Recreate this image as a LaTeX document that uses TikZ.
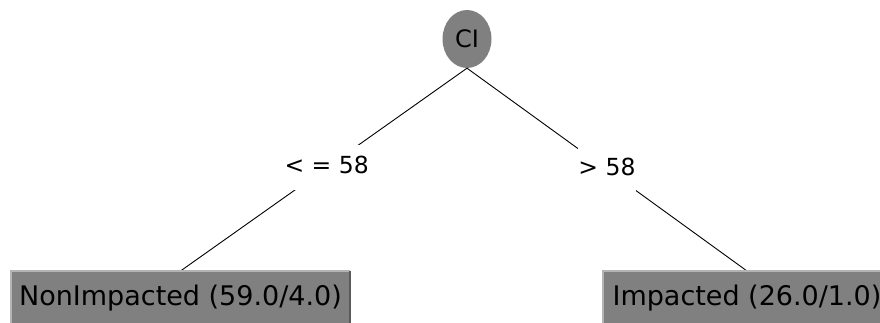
\documentclass[tikz,border=0pt]{standalone}
\usepackage{fontspec}
\setmainfont{DejaVu Sans}
\usetikzlibrary{shapes.geometric}
\definecolor{nodegray}{HTML}{808080}
\definecolor{rimlight}{HTML}{B4B4B4}
\definecolor{rimdark}{HTML}{5A5A5A}
\begin{document}
\begin{tikzpicture}[x=1pt,y=-1pt,
  rootnode/.style={ellipse, fill=nodegray, minimum width=49pt, minimum height=58pt, inner sep=0pt, font=\fontsize{24}{27}\selectfont},
  leafbox/.style={rectangle, fill=nodegray, inner sep=0pt, text height=34pt, text depth=26pt, anchor=north, font=\fontsize{27}{30}\selectfont},
  edgelbl/.style={rectangle, fill=white, inner sep=0pt, text height=28pt, text depth=17pt, font=\fontsize{23.5}{27}\selectfont},
  edgeline/.style={draw=black, line width=0.9pt}
]
\useasboundingbox (0,0) rectangle (880,323);
\clip (0,0) rectangle (880,323);
\fill[white] (0,0) rectangle (880,323);

\node[rootnode] (root) at (467,39) {CI};
\node[leafbox, minimum width=339pt] (left) at (180.5,271) {NonImpacted (59.0/4.0)};
\node[leafbox, minimum width=288pt] (right) at (747,271) {Impacted (26.0/1.0)};

\draw[edgeline] (root.south) -- node[edgelbl, pos=0.49] (lblL) {<\ =\ 58} (left.north);
\draw[edgeline] (root.south) -- node[edgelbl, pos=0.5] (lblR) {>\ 58} (right.north);

\draw[rimlight, line width=1.5pt] (left.south west) -- (left.north west) -- (left.north east);
\draw[rimdark, line width=1.5pt] (left.north east) -- (left.south east);
\draw[rimlight, line width=1.5pt] (right.south west) -- (right.north west) -- (right.north east);
\draw[rimdark, line width=1.5pt] (right.north east) -- (right.south east);
\end{tikzpicture}
\end{document}
